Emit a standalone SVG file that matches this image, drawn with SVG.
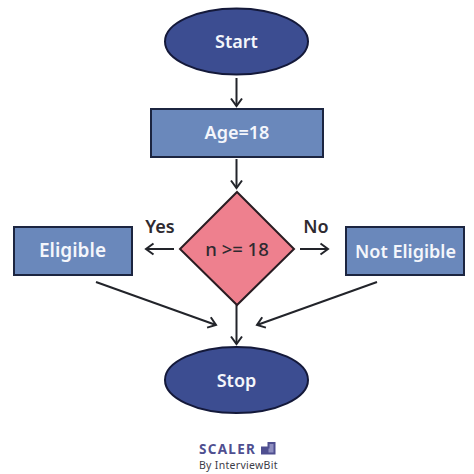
<svg xmlns="http://www.w3.org/2000/svg" width="474" height="474" viewBox="0 0 474 474">
<style>
.t{font-family:"Noto Sans","Open Sans",sans-serif;font-weight:600;font-size:18px;text-anchor:middle}
.w{fill:#f4f6fb}
.d{fill:#2f2a30}
.oval{fill:#3c4d91;stroke:#14193a;stroke-width:2}
.box{fill:#6a88bb;stroke:#1c2540;stroke-width:2}
.c{fill:none;stroke:#22242a;stroke-width:2}
</style>
<defs>
<marker id="a" markerUnits="userSpaceOnUse" markerWidth="16" markerHeight="20" refX="11" refY="10" orient="auto" overflow="visible">
<path d="M3.500 4.500L11 10L3.500 15.500" fill="none" stroke="#22242a" stroke-width="2"/>
</marker>
</defs>
<rect width="474" height="474" fill="#fff"/>
<g id="connectors">
<path class="c" marker-end="url(#a)" d="M236.500 78V106"/>
<path class="c" marker-end="url(#a)" d="M236.500 159V188"/>
<path class="c" marker-end="url(#a)" d="M174 249H146"/>
<path class="c" marker-end="url(#a)" d="M300 249H328"/>
<path class="c" marker-end="url(#a)" d="M96 282L216 325"/>
<path class="c" marker-end="url(#a)" d="M377 282L257 325"/>
<path class="c" marker-end="url(#a)" d="M236.500 305V344"/>
</g>
<g id="start"><ellipse class="oval" cx="236.500" cy="41.500" rx="71.500" ry="33"/><text class="t w" x="236.500" y="47.500">Start</text></g>
<g id="age"><rect class="box" x="151" y="109" width="172" height="48"/><text class="t w" x="237" y="139">Age=18</text></g>
<g id="decision"><path d="M237 192L294 249L237 305L180 249Z" fill="#ee808e" stroke="#2a1c22" stroke-width="2"/><text class="t d" x="237" y="255.500" style="font-weight:500;font-size:18.500px">n &gt;= 18</text></g>
<g id="eligible"><rect class="box" x="14" y="227" width="118" height="48"/><text class="t w" x="72.500" y="257" style="font-size:19px">Eligible</text></g>
<g id="not-eligible"><rect class="box" x="346" y="227" width="118" height="48"/><text class="t w" x="405.500" y="257.500">Not Eligible</text></g>
<g id="stop"><ellipse class="oval" cx="236.500" cy="380" rx="71.500" ry="33"/><text class="t w" x="236.500" y="387">Stop</text></g>
<text class="t d" x="160" y="233">Yes</text>
<text class="t d" x="316" y="233">No</text>
<g id="logo">
<text x="199" y="454" style="font-family:'Noto Sans',sans-serif;font-weight:700;font-size:13.500px;letter-spacing:1.300px;fill:#4f4f90">SCALER</text>
<path d="M262 447.500h6.500v-4.500h6v10.500h-12.500z" fill="#8f8fc0" stroke="#4f4f90" stroke-width="2"/>
<path d="M262.500 447.500h6v6h-6z" fill="#4f4f90"/>
<text x="199" y="468.500" style="font-family:'Noto Sans',sans-serif;font-weight:400;font-size:10.500px;letter-spacing:.3px;fill:#3c3c48">By InterviewBit</text>
</g>
</svg>
